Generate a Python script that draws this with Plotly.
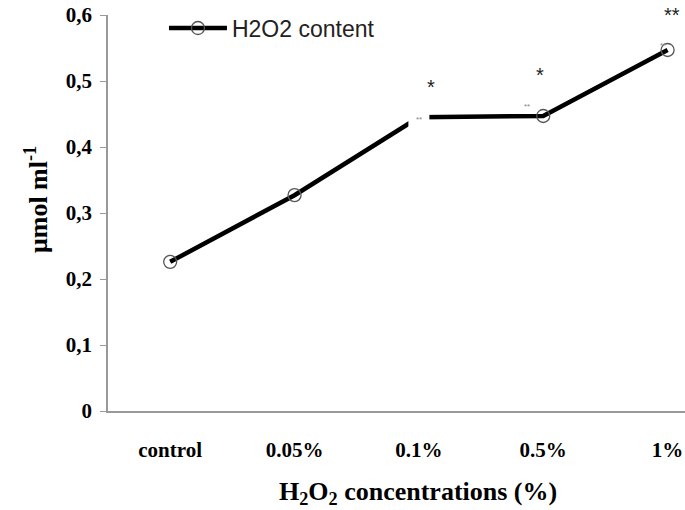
import plotly.graph_objects as go

categories = ["control", "0.05%", "0.1%", "0.5%", "1%"]
h2o2_content = [0.226, 0.327, 0.445, 0.447, 0.547]
significance = ["", "", "*", "*", "**"]
y_tickvals = [0, 0.1, 0.2, 0.3, 0.4, 0.5, 0.6]
y_ticktext = ["0", "0,1", "0,2", "0,3", "0,4", "0,5", "0,6"]

x_idx = list(range(len(categories)))

fig = go.Figure()
fig.add_trace(go.Scatter(
    x=x_idx, y=h2o2_content, mode="lines+markers", name="H2O2 content",
    line=dict(color="black", width=4.5),
    marker=dict(symbol="circle-open", size=13, color="#555", line=dict(width=1.3)),
))
# white patch hiding the 0.1% point, as in the reference
fig.add_trace(go.Scatter(
    x=[x_idx[2]], y=[h2o2_content[2]], mode="markers", showlegend=False, hoverinfo="skip",
    marker=dict(symbol="square", size=21, color="white", opacity=1, line=dict(width=0)),
))

star_shift = {2: (12, 30), 3: (-3, 41), 4: (4, 35)}
for i, (v, s) in enumerate(zip(h2o2_content, significance)):
    if s:
        dx, dy = star_shift[i]
        fig.add_annotation(x=i, y=v, text=s, showarrow=False, xshift=dx, yshift=dy,
                           font=dict(family="Liberation Sans", size=20, color="#222"))
# tiny grey error-bar caps
cap_shift = {2: (0, -2), 3: (-16, 9), 4: (-5, 4)}
for i, (dx, dy) in cap_shift.items():
    fig.add_annotation(x=i, y=h2o2_content[i], text="**", showarrow=False, xshift=dx, yshift=dy,
                       font=dict(family="Liberation Sans", size=8, color="#888"))

fig.update_layout(
    width=685, height=510,
    margin=dict(l=108, r=0, t=15, b=99),
    paper_bgcolor="white", plot_bgcolor="white",
    showlegend=True,
    legend=dict(x=0.097, y=0.967, xanchor="left", yanchor="middle",
                font=dict(family="Liberation Sans", size=23, color="#222"),
                bgcolor="rgba(0,0,0,0)", itemwidth=58),
    xaxis=dict(range=[-0.5, 4.14], tickvals=x_idx, ticktext=categories, automargin=False,
               showline=True, linecolor="#999", linewidth=1.5, showgrid=False,
               zeroline=False, ticks="", ticklabelstandoff=19,
               tickfont=dict(family="Liberation Serif", size=21, color="black", weight="bold")),
    yaxis=dict(range=[0, 0.6], tickvals=y_tickvals, ticktext=y_ticktext, automargin=False,
               showline=True, linecolor="#999", linewidth=1.5, showgrid=False,
               zeroline=False, ticks="outside", ticklen=6, tickcolor="#999",
               ticklabelstandoff=4,
               tickfont=dict(family="Liberation Serif", size=21, color="black", weight="bold")),
)
fig.add_annotation(xref="paper", yref="paper", x=(418 - 108) / 577, y=-(493 - 411) / 396,
                   text="H<sub>2</sub>O<sub>2</sub> concentrations (%)", showarrow=False,
                   xanchor="center", yanchor="middle",
                   font=dict(family="Liberation Serif", size=26, color="black", weight="bold"))
fig.add_annotation(xref="paper", yref="paper", x=-(108 - 37) / 577, y=(411 - 200) / 396,
                   text="μmol ml<sup>-1</sup>", showarrow=False, textangle=-90,
                   xanchor="center", yanchor="middle",
                   font=dict(family="Liberation Serif", size=26, color="black", weight="bold"))

fig.write_html("out.html", config={"displayModeBar": False},
               post_script="document.body.style.margin='0';document.body.style.overflow='hidden';")
